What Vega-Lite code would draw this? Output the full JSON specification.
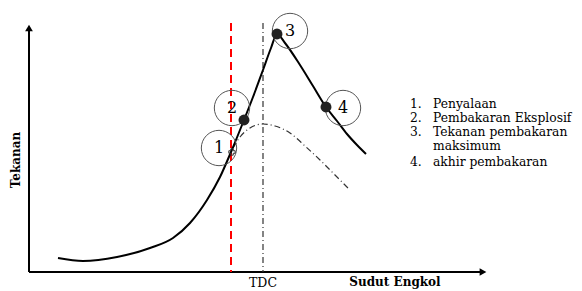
{
  "$schema": "https://vega.github.io/schema/vega-lite/v6.json",
  "width": 582,
  "height": 291,
  "autosize": {"type": "fit", "contains": "padding"},
  "padding": 0,
  "background": "white",
  "config": {"view": {"stroke": null}},
  "datasets": {
    "main": [
      {"a": 58, "p": 258}, {"a": 83, "p": 261}, {"a": 117, "p": 257}, {"a": 150, "p": 248},
      {"a": 173, "p": 238}, {"a": 190, "p": 223}, {"a": 207, "p": 200}, {"a": 220, "p": 177},
      {"a": 231, "p": 152}, {"a": 244, "p": 120}, {"a": 253, "p": 97}, {"a": 263, "p": 70},
      {"a": 271, "p": 48}, {"a": 277, "p": 34}, {"a": 285, "p": 43}, {"a": 300, "p": 65},
      {"a": 313, "p": 86}, {"a": 326, "p": 107}, {"a": 337, "p": 121}, {"a": 347, "p": 134},
      {"a": 357, "p": 145}, {"a": 366, "p": 154}
    ],
    "motor": [
      {"a": 233, "p": 148}, {"a": 240, "p": 137}, {"a": 250, "p": 128}, {"a": 263, "p": 124},
      {"a": 275, "p": 126}, {"a": 290, "p": 133}, {"a": 305, "p": 146}, {"a": 320, "p": 160},
      {"a": 335, "p": 175}, {"a": 350, "p": 190}
    ],
    "circles": [
      {"a": 219, "p": 148, "n": "1"}, {"a": 232, "p": 108, "n": "2"},
      {"a": 290, "p": 31, "n": "3"}, {"a": 343, "p": 108, "n": "4"}
    ],
    "markers": [
      {"a": 244, "p": 120}, {"a": 277, "p": 34}, {"a": 326, "p": 107}
    ],
    "legend": [
      {"a": 410, "p": 104, "t": "1."}, {"a": 433, "p": 104, "t": "Penyalaan"},
      {"a": 410, "p": 118, "t": "2."}, {"a": 433, "p": 118, "t": "Pembakaran Eksplosif"},
      {"a": 410, "p": 132, "t": "3."}, {"a": 433, "p": 132, "t": "Tekanan pembakaran"},
      {"a": 433, "p": 145.5, "t": "maksimum"},
      {"a": 410, "p": 162, "t": "4."}, {"a": 433, "p": 162, "t": "akhir pembakaran"}
    ]
  },
  "encoding": {
    "x": {"field": "a", "type": "quantitative", "scale": {"domain": [0, 582], "nice": false, "zero": false}, "axis": null},
    "y": {"field": "p", "type": "quantitative", "scale": {"domain": [0, 291], "nice": false, "zero": false, "reverse": true}, "axis": null}
  },
  "layer": [
    {
      "data": {"values": [{"a": 29, "p": 272, "a2": 29, "p2": 30}, {"a": 29, "p": 272, "a2": 480, "p2": 272}]},
      "mark": {"type": "rule", "color": "black", "strokeWidth": 2},
      "encoding": {"x2": {"field": "a2"}, "y2": {"field": "p2"}}
    },
    {
      "data": {"values": [{"a": 29, "p": 28, "s": "triangle-up"}, {"a": 483, "p": 272, "s": "triangle-right"}]},
      "mark": {"type": "point", "filled": true, "color": "black", "size": 60, "opacity": 1},
      "encoding": {"shape": {"field": "s", "type": "nominal", "scale": null}}
    },
    {
      "data": {"values": [{"a": 231, "p": 23, "p2": 272}]},
      "mark": {"type": "rule", "color": "#ff0000", "strokeWidth": 2, "strokeDash": [8, 5]},
      "encoding": {"y2": {"field": "p2"}}
    },
    {
      "data": {"values": [{"a": 263, "p": 23, "p2": 272}]},
      "mark": {"type": "rule", "color": "#333333", "strokeWidth": 1.2, "strokeDash": [6, 3, 1, 3]},
      "encoding": {"y2": {"field": "p2"}}
    },
    {
      "data": {"name": "motor"},
      "mark": {"type": "line", "color": "#333333", "strokeWidth": 1.2, "strokeDash": [6, 3, 1, 3], "interpolate": "monotone"}
    },
    {
      "data": {"name": "main"},
      "mark": {"type": "line", "color": "black", "strokeWidth": 2, "interpolate": "monotone"}
    },
    {
      "data": {"name": "circles"},
      "mark": {"type": "point", "shape": "circle", "size": 1250, "filled": false, "color": "#555555", "strokeWidth": 1, "opacity": 1}
    },
    {
      "data": {"name": "markers"},
      "mark": {"type": "point", "shape": "circle", "size": 120, "filled": true, "color": "#222222", "opacity": 1}
    },
    {
      "data": {"values": [{"a": 232, "p": 152}]},
      "mark": {"type": "point", "shape": "cross", "size": 40, "filled": false, "color": "#333333", "strokeWidth": 1, "opacity": 1}
    },
    {
      "data": {"name": "circles"},
      "mark": {"type": "text", "font": "DejaVu Serif", "fontSize": 16, "color": "black", "align": "center", "baseline": "middle"},
      "encoding": {"text": {"field": "n"}}
    },
    {
      "data": {"name": "legend"},
      "mark": {"type": "text", "font": "DejaVu Serif", "fontSize": 12.3, "color": "black", "align": "left", "baseline": "middle"},
      "encoding": {"text": {"field": "t"}}
    },
    {
      "data": {"values": [{"a": 263, "p": 283, "t": "TDC"}]},
      "mark": {"type": "text", "font": "DejaVu Serif", "fontSize": 12.5, "color": "black", "align": "center", "baseline": "middle"},
      "encoding": {"text": {"field": "t"}}
    },
    {
      "data": {"values": [{"a": 395, "p": 282, "t": "Sudut Engkol"}]},
      "mark": {"type": "text", "font": "DejaVu Serif", "fontSize": 12, "fontWeight": "bold", "color": "black", "align": "center", "baseline": "middle"},
      "encoding": {"text": {"field": "t"}}
    },
    {
      "data": {"values": [{"a": 16, "p": 160, "t": "Tekanan"}]},
      "mark": {"type": "text", "font": "DejaVu Serif", "fontSize": 12, "fontWeight": "bold", "angle": 270, "color": "black", "align": "center", "baseline": "middle"},
      "encoding": {"text": {"field": "t"}}
    }
  ]
}
